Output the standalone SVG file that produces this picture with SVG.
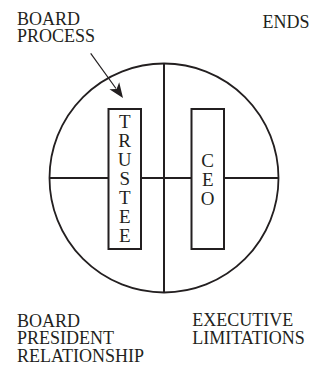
<svg xmlns="http://www.w3.org/2000/svg" width="323" height="366" viewBox="0 0 323 366">
<style>
.t{font-family:'Liberation Serif','Times New Roman',serif;font-size:18px;fill:#231f20}
.v{font-family:'Liberation Serif','Times New Roman',serif;font-size:19px;fill:#231f20;text-anchor:middle}
.ln{stroke:#231f20;stroke-width:2;fill:none}
.box{stroke:#231f20;stroke-width:2;fill:#fff}
</style>
<rect width="323" height="366" fill="#fff"/>
<g id="circle">
<circle cx="164" cy="178" r="114.5" fill="none" stroke="#231f20" stroke-width="1.8"/>
</g>
<g id="connectors">
<line class="ln" x1="164" y1="63.5" x2="164" y2="292.5"/>
<line class="ln" x1="49.5" y1="178" x2="278.5" y2="178"/>
<line x1="90.7" y1="53.3" x2="116" y2="88.5" stroke="#231f20" stroke-width="1.2"/>
<path d="M123,98 L109.4,89.3 L116.6,89 L119.2,82.3 Z" fill="#231f20"/>
</g>
<g id="trustee">
<rect class="box" x="108.5" y="109" width="32.5" height="140"/>
<text class="v" font-family="Liberation Serif" font-size="19"><tspan x="124.7" y="128">T</tspan><tspan x="124.7" y="147">R</tspan><tspan x="124.7" y="166">U</tspan><tspan x="124.7" y="185">S</tspan><tspan x="124.7" y="204">T</tspan><tspan x="124.7" y="223">E</tspan><tspan x="124.7" y="242">E</tspan></text>
</g>
<g id="ceo">
<rect class="box" x="191.5" y="109" width="32.5" height="140"/>
<text class="v" font-family="Liberation Serif" font-size="19"><tspan x="207.7" y="167">C</tspan><tspan x="207.7" y="186">E</tspan><tspan x="207.7" y="205">O</tspan></text>
</g>
<g id="board-process">
<text class="t" font-family="Liberation Serif" font-size="18"><tspan x="17" y="24.5">BOARD</tspan><tspan x="17" y="42">PROCESS</tspan></text>
</g>
<g id="ends">
<text class="t" font-family="Liberation Serif" font-size="18" x="262.5" y="28.3">ENDS</text>
</g>
<g id="board-president">
<text class="t" font-family="Liberation Serif" font-size="18"><tspan x="17" y="326.7">BOARD</tspan><tspan x="17" y="344">PRESIDENT</tspan><tspan x="17" y="361.7">RELATIONSHIP</tspan></text>
</g>
<g id="executive-limitations">
<text class="t" font-family="Liberation Serif" font-size="18"><tspan x="192.3" y="326.3">EXECUTIVE</tspan><tspan x="192.3" y="343.6">LIMITATIONS</tspan></text>
</g>
</svg>
